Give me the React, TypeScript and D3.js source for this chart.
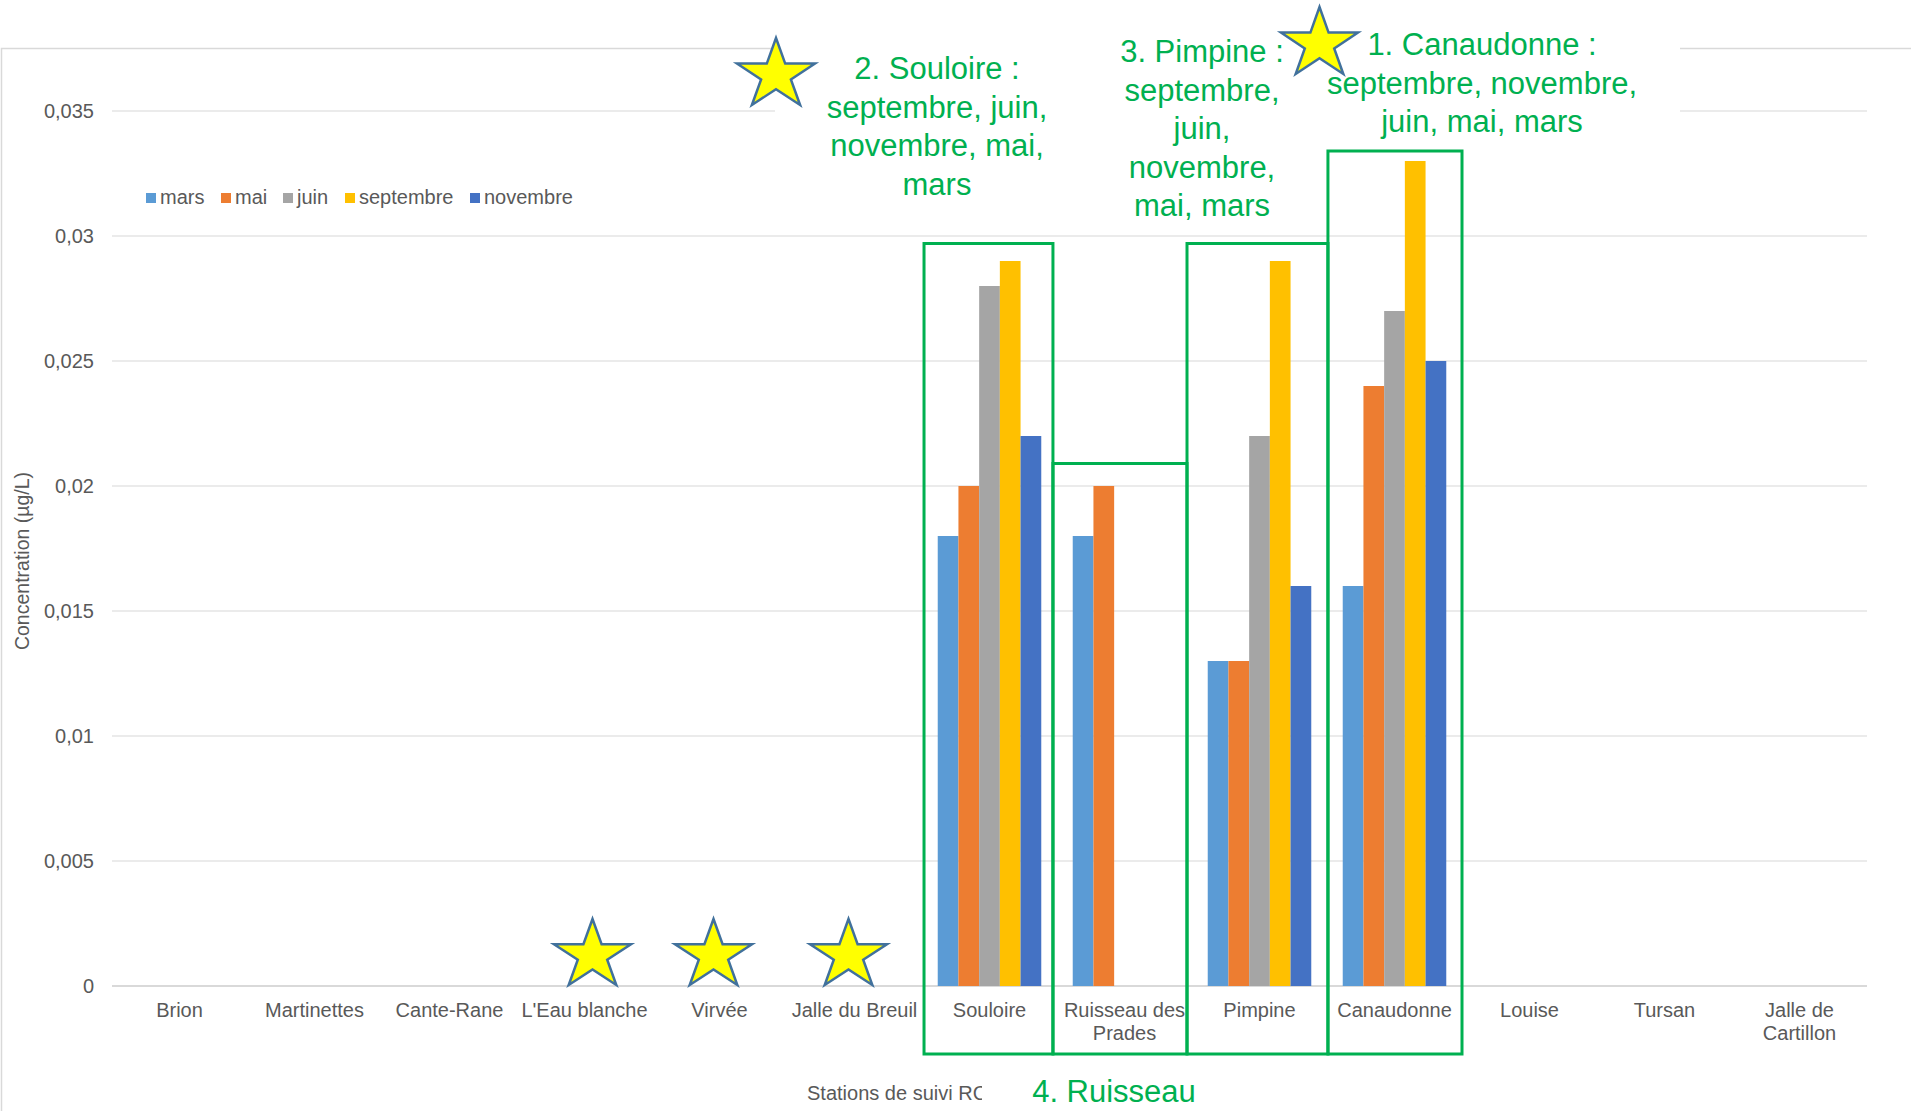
import React, { useEffect } from "react";
import * as d3 from "d3";

// ---------- data ----------
const categories = [
  "Brion", "Martinettes", "Cante-Rane", "L'Eau blanche", "Virvée", "Jalle du Breuil",
  "Souloire", "Ruisseau des Prades", "Pimpine", "Canaudonne", "Louise", "Tursan", "Jalle de Cartillon",
];
const categoryLabels = [
  ["Brion"], ["Martinettes"], ["Cante-Rane"], ["L'Eau blanche"], ["Virvée"], ["Jalle du Breuil"],
  ["Souloire"], ["Ruisseau des", "Prades"], ["Pimpine"], ["Canaudonne"], ["Louise"], ["Tursan"], ["Jalle de", "Cartillon"],
];
const months = ["mars", "mai", "juin", "septembre", "novembre"];
const mars = [null, null, null, null, null, null, 0.018, 0.018, 0.013, 0.016, null, null, null];
const mai = [null, null, null, null, null, null, 0.020, 0.020, 0.013, 0.024, null, null, null];
const juin = [null, null, null, null, null, null, 0.028, null, 0.022, 0.027, null, null, null];
const septembre = [null, null, null, null, null, null, 0.029, null, 0.029, 0.033, null, null, null];
const novembre = [null, null, null, null, null, null, 0.022, null, 0.016, 0.025, null, null, null];
const seriesValues = [mars, mai, juin, septembre, novembre];
const seriesColors = ["#5B9BD5", "#ED7D31", "#A5A5A5", "#FFC000", "#4472C4"];
const yTicks = [0, 0.005, 0.01, 0.015, 0.02, 0.025, 0.03, 0.035];

const yTitle = "Concentration (µg/L)";
const xTitle = "Stations de suivi RC";

// annotations
const boxStations = ["Souloire", "Ruisseau des Prades", "Pimpine", "Canaudonne"];
const boxTops = [0.0297, 0.0209, 0.0297, 0.0334];
const boxSpans = [[6.015, 6.97], [6.97, 7.963], [7.963, 9.007], [9.007, 10.0]];
const starStations = ["L'Eau blanche", "Virvée", "Jalle du Breuil"];
const noteSouloire = ["2. Souloire :", "septembre, juin,", "novembre, mai,", "mars"];
const notePimpine = ["3. Pimpine :", "septembre,", "juin,", "novembre,", "mai, mars"];
const noteCanaudonne = ["1. Canaudonne :", "septembre, novembre,", "juin, mai, mars"];
const noteRuisseau = ["4. Ruisseau"];

const W = 1911;
const H = 1111;
const FONT = "'Liberation Sans', Arial, Helvetica, sans-serif";
const GREEN = "#00B050";
const TXT = "#595959";

function starPath(x0: number, y0: number, x1: number, y1: number) {
  const pts: [number, number][] = [];
  for (let i = 0; i < 10; i++) {
    const a = -Math.PI / 2 + (i * Math.PI) / 5;
    const r = i % 2 === 0 ? 1 : 0.382;
    pts.push([r * Math.cos(a), r * Math.sin(a)]);
  }
  const sx = d3.scaleLinear().domain([-Math.cos(Math.PI / 10), Math.cos(Math.PI / 10)]).range([x0, x1]);
  const sy = d3.scaleLinear().domain([-1, Math.cos(Math.PI / 5)]).range([y0, y1]);
  return "M" + pts.map((p) => `${sx(p[0])},${sy(p[1])}`).join("L") + "Z";
}

export default function App() {
  useEffect(() => {
    document.body.style.margin = "0";
    document.body.style.overflow = "hidden";
  }, []);

  const plotL = 112, plotR = 1867, plotT = 111, plotB = 986;
  const x0 = d3.scaleBand<string>().domain(categories).range([plotL, plotR]).padding(0);
  const bw = x0.bandwidth();
  const x1 = d3.scaleBand<string>().domain(months).range([0, bw]).paddingInner(0).paddingOuter(0.76);
  const y = d3.scaleLinear().domain([0, 0.035]).range([plotB, plotT]);
  const xi = d3.scaleLinear().domain([0, categories.length]).range([plotL, plotR]);

  const noteLines = (lines: string[], cx: number, y0: number, key: string) => (
    <text key={key} x={cx} y={y0} textAnchor="middle" fill={GREEN} fontSize={31} fontFamily={FONT}>
      {lines.map((l, i) => (
        <tspan key={i} x={cx} y={y0 + i * 38.5}>{l}</tspan>
      ))}
    </text>
  );

  const starStyle = { fill: "#FFFF00", stroke: "#41719C", strokeWidth: 2.5, strokeLinejoin: "miter" as const };

  return (
    <svg width={W} height={H} style={{ position: "absolute", left: 0, top: 0, background: "#fff" }} fontFamily={FONT}>
      <rect x={0} y={0} width={W} height={H} fill="#fff" />
      {/* chart border */}
      <rect x={1.5} y={48.5} width={W + 20} height={H + 20} fill="none" stroke="#D9D9D9" strokeWidth={1.5} />

      {/* gridlines */}
      {yTicks.map((t) => (
        <line key={t} x1={plotL} x2={plotR} y1={y(t)} y2={y(t)} stroke={t === 0 ? "#D9D9D9" : "#E5E5E5"} strokeWidth={t === 0 ? 2 : 1.5} />
      ))}

      {/* y tick labels */}
      {yTicks.map((t) => (
        <text key={"yl" + t} x={94} y={y(t)} dy="0.35em" textAnchor="end" fontSize={20} fill={TXT}>
          {String(t).replace(".", ",")}
        </text>
      ))}

      {/* bars */}
      {categories.map((c, ci) => (
        <g key={c} transform={`translate(${x0(c)},0)`}>
          {months.map((m, mi) => {
            const v = seriesValues[mi][ci];
            if (v == null) return null;
            return (
              <rect key={m} x={x1(m)} width={x1.bandwidth()} y={y(v)} height={y(0) - y(v)} fill={seriesColors[mi]} />
            );
          })}
        </g>
      ))}

      {/* x labels */}
      {categories.map((c, ci) => (
        <text key={"xl" + c} x={(x0(c) as number) + bw / 2} y={1017} textAnchor="middle" fontSize={20} fill={TXT}>
          {categoryLabels[ci].map((l, i) => (
            <tspan key={i} x={(x0(c) as number) + bw / 2} y={1017 + i * 23}>{l}</tspan>
          ))}
        </text>
      ))}

      {/* y title */}
      <text transform="translate(29,561) rotate(-90)" textAnchor="middle" fontSize={19.5} fill={TXT}>{yTitle}</text>

      {/* x title */}
      <text x={807} y={1100} fontSize={20} fill={TXT}>{xTitle}</text>

      {/* legend */}
      {months.map((m, i) => {
        const lx = [146, 221, 283, 345, 470][i];
        return (
          <g key={"lg" + m}>
            <rect x={lx} y={193} width={10} height={10} fill={seriesColors[i]} />
            <text x={lx + 14} y={204} fontSize={20} fill={TXT}>{m}</text>
          </g>
        );
      })}

      {/* white text-box cover */}
      <rect x={775} y={40} width={905} height={88} fill="#fff" />
      <rect x={982} y={1076} width={260} height={40} fill="#fff" />

      {/* annotation notes */}
      {noteLines(noteSouloire, 937, 79, "n1")}
      {noteLines(notePimpine, 1202, 62, "n2")}
      {noteLines(noteCanaudonne, 1482, 55, "n3")}
      {noteLines(noteRuisseau, 1114, 1102, "n4")}

      {/* green boxes */}
      {boxStations.map((s, i) => (
        <rect key={"bx" + s} x={xi(boxSpans[i][0])} width={xi(boxSpans[i][1]) - xi(boxSpans[i][0])}
          y={y(boxTops[i])} height={1054 - y(boxTops[i])} fill="none" stroke={GREEN} strokeWidth={3} />
      ))}

      {/* stars */}
      <path d={starPath(737, 38, 815, 105)} {...starStyle} />
      <path d={starPath(1281, 7, 1358, 74)} {...starStyle} />
      {starStations.map((s, i) => {
        const cx = (x0(s) as number) + bw / 2 + [8, -6, -6][i];
        return <path key={"st" + s} d={starPath(cx - 38.5, y(0) - 67, cx + 38.5, y(0) - 1)} {...starStyle} />;
      })}
    </svg>
  );
}
